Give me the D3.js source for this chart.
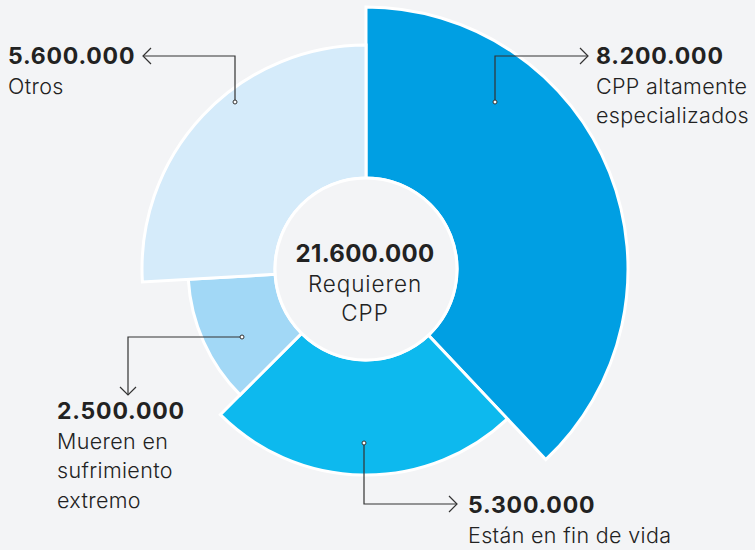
<!DOCTYPE html>
<html><head><meta charset="utf-8">
<script src="https://cdn.jsdelivr.net/npm/d3@7"></script>
<style>html,body{margin:0;padding:0;background:#f3f4f6}svg{display:block}</style>
</head><body><svg id="c" width="755" height="550"></svg>
<script>
// ---- data ----
const categories = ["CPP altamente especializados", "Están en fin de vida", "Mueren en sufrimiento extremo", "Otros"];
const values = [8200000, 5300000, 2500000, 5600000];
const labelLines = [["CPP altamente", "especializados"], ["Están en fin de vida"], ["Mueren en", "sufrimiento", "extremo"], ["Otros"]];
const totalValue = 21600000;
const totalLines = ["Requieren", "CPP"];

// ---- styles / layout ----
const W = 755, H = 550;
const cx = 366, cy = 269;
const innerR = 91;
const colors = d3.scaleOrdinal().domain(categories).range(["#009fe3", "#0db9ee", "#a2d8f6", "#d5ebfa"]);
const outerR = d3.scaleOrdinal().domain(categories).range([262, 206, 178, 224]);
const fmt = d3.formatLocale({decimal: ",", thousands: ".", grouping: [3], currency: ["", "€"]}).format(",");
const FONT = "Inter, 'Noto Sans', sans-serif";
const ink = "#222";

// annotation layout (leader lines + label positions)
const annot = [
  {dot: [495, 102], corner: [495, 56], end: [588, 56], dir: "right", tx: 596, ty: 64},
  {dot: [364, 443], corner: [364, 504], end: [457, 504], dir: "right", tx: 468, ty: 513},
  {dot: [242, 337], corner: [128, 337], end: [128, 395], dir: "down", tx: 57, ty: 419},
  {dot: [235, 102], corner: [235, 56], end: [143, 56], dir: "left", tx: 8, ty: 64}
];

const svg = d3.select("#c");
svg.append("rect").attr("width", W).attr("height", H).attr("fill", "#f3f4f6");

const pie = d3.pie().sort(null).value(d => d)(values);
const arc = d3.arc().innerRadius(innerR).outerRadius(d => outerR(categories[d.index]));

const g = svg.append("g").attr("transform", `translate(${cx},${cy})`);
g.selectAll("path.slice").data(pie).join("path")
  .attr("class", "slice")
  .attr("d", arc)
  .attr("fill", d => colors(categories[d.index]))
  .attr("stroke", "#fff")
  .attr("stroke-width", 3)
  .attr("stroke-linejoin", "miter");

g.append("circle").attr("r", innerR).attr("fill", "#f3f4f6").attr("stroke", "#fff").attr("stroke-width", 3);

// center text
g.append("text").attr("x", -1).attr("y", -7).attr("text-anchor", "middle")
  .attr("font-family", FONT).attr("font-weight", 700).attr("font-size", 24).attr("letter-spacing", 0.3).attr("fill", ink)
  .text(fmt(totalValue));
totalLines.forEach((t, i) => {
  g.append("text").attr("x", -1).attr("y", 23 + i * 28.5).attr("text-anchor", "middle")
    .attr("font-family", FONT).attr("font-weight", 300).attr("font-size", 22.5).attr("letter-spacing", 0.9).attr("fill", ink)
    .text(t);
});

// annotations
const ag = svg.append("g");
annot.forEach((a, i) => {
  ag.append("path")
    .attr("d", `M${a.dot[0]},${a.dot[1]}L${a.corner[0]},${a.corner[1]}L${a.end[0]},${a.end[1]}`)
    .attr("fill", "none").attr("stroke", "#333").attr("stroke-width", 1.2);
  const [ex, ey] = a.end, s = 8;
  let ch;
  if (a.dir === "right") ch = `M${ex - s},${ey - s}L${ex},${ey}L${ex - s},${ey + s}`;
  else if (a.dir === "left") ch = `M${ex + s},${ey - s}L${ex},${ey}L${ex + s},${ey + s}`;
  else ch = `M${ex - s},${ey - s}L${ex},${ey}L${ex + s},${ey - s}`;
  ag.append("path").attr("d", ch).attr("fill", "none").attr("stroke", "#333").attr("stroke-width", 1.2);
  ag.append("circle").attr("cx", a.dot[0]).attr("cy", a.dot[1]).attr("r", 2)
    .attr("fill", "#fff").attr("stroke", "#333").attr("stroke-width", 1);

  const t = ag.append("text").attr("font-family", FONT).attr("fill", ink);
  t.append("tspan").attr("x", a.tx).attr("y", a.ty).attr("font-weight", 700).attr("font-size", 23)
    .attr("letter-spacing", 0.8).text(fmt(values[i]));
  labelLines[i].forEach((l, j) => {
    t.append("tspan").attr("x", a.tx).attr("y", a.ty + 29.5 * (j + 1)).attr("font-weight", 300).attr("font-size", 21.5)
      .attr("letter-spacing", 0.35).text(l);
  });
});
</script></body></html>
